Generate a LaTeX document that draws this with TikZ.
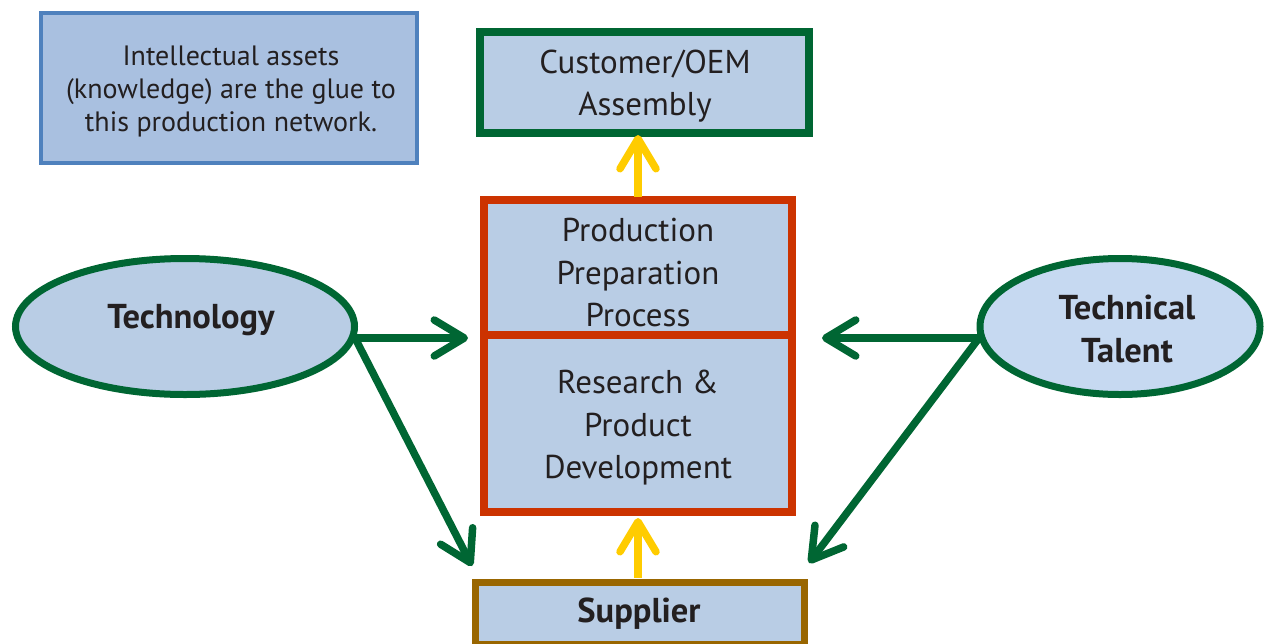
\documentclass[tikz,border=0pt]{standalone}
\usepackage{fontspec}
\setmainfont{PT Sans}
\usetikzlibrary{arrows.meta,shapes.geometric}
\definecolor{grn}{HTML}{006633}
\definecolor{redb}{HTML}{CC3300}
\definecolor{brn}{HTML}{996600}
\definecolor{ylw}{HTML}{FFCC00}
\definecolor{blub}{HTML}{4F81BD}
\definecolor{fillA}{HTML}{A9C0E0}
\definecolor{fillB}{HTML}{B9CDE5}
\definecolor{fillC}{HTML}{C6D9F1}
\definecolor{txtc}{HTML}{231F20}
\begin{document}
\begin{tikzpicture}[x=1pt,y=-1pt,
  boxn/.style={rectangle, inner sep=0pt, fill=fillB},
  elln/.style={ellipse, inner sep=0pt, draw=grn, line width=7pt},
  txt/.style={text=txtc, align=center, inner sep=0pt, font=\fontsize{33}{42.5}\selectfont},
  btxt/.style={txt, font=\fontsize{34.5}{43}\selectfont\bfseries},
  stxt/.style={txt, font=\fontsize{28}{33}\selectfont},
  garrow/.style={draw=grn, line width=7.5pt, -{Straight Barb[length=30pt,width=36pt,round]}},
  yarrow/.style={draw=ylw, line width=7.5pt, -{Straight Barb[length=30pt,width=36pt,round]}}]
\useasboundingbox (0,0) rectangle (1265,643);
% note box
\node[boxn, fill=fillA, draw=blub, line width=4pt, minimum width=376pt, minimum height=150pt] (note) at (229,88) {};
\node[stxt] (notet) at (231,91) {Intellectual assets\\(knowledge) are the glue to\\this production network.};
% customer
\node[boxn, draw=grn, line width=8pt, minimum width=329pt, minimum height=101pt] (cust) at (644.5,82.5) {};
\node[txt] (custt) at (645,86) {Customer/OEM\\Assembly};
% center box
\node[boxn, draw=redb, line width=8pt, minimum width=308pt, minimum height=135pt] (ppp) at (638,267.5) {};
\node[boxn, draw=redb, line width=8pt, minimum width=308pt, minimum height=177pt] (rpd) at (638,423.5) {};
\node[txt] (pppt) at (638,273) {Production\\Preparation\\Process};
\node[txt] (rpdt) at (638,428) {Research \&\\Product\\Development};
% supplier
\node[boxn, draw=brn, line width=7pt, minimum width=329pt, minimum height=62pt] (sup) at (639.5,613) {};
\node[btxt] (supt) at (639,614) {Supplier};
% ellipses
\node[elln, fill=fillB, minimum width=339pt, minimum height=136pt] (tech) at (185,326.5) {};
\node[btxt] (techt) at (191,320.5) {Technology};
\node[elln, fill=fillC, minimum width=280pt, minimum height=136pt] (tal) at (1120,326.5) {};
\node[btxt] (talt) at (1127,328.5) {Technical\\Talent};
% connector end points
\coordinate (techR) at (355,338);
\coordinate (talL) at (979,338);
\coordinate (rdL) at (468,338);
\coordinate (rdR) at (822,338);
\coordinate (supL) at (472,566);
\coordinate (supR) at (809,563);
\coordinate (ppTop) at (638,197);
\coordinate (custB) at (638,135);
\coordinate (supTop) at (638,578);
\coordinate (rdB) at (638,518);
% arrows
\draw[garrow] (techR) -- (rdL);
\draw[garrow] (techR) -- (supL);
\draw[garrow] (talL) -- (rdR);
\draw[garrow] (talL) -- (supR);
\draw[yarrow] (ppTop) -- (custB);
\draw[yarrow] (supTop) -- (rdB);
\end{tikzpicture}
\end{document}
